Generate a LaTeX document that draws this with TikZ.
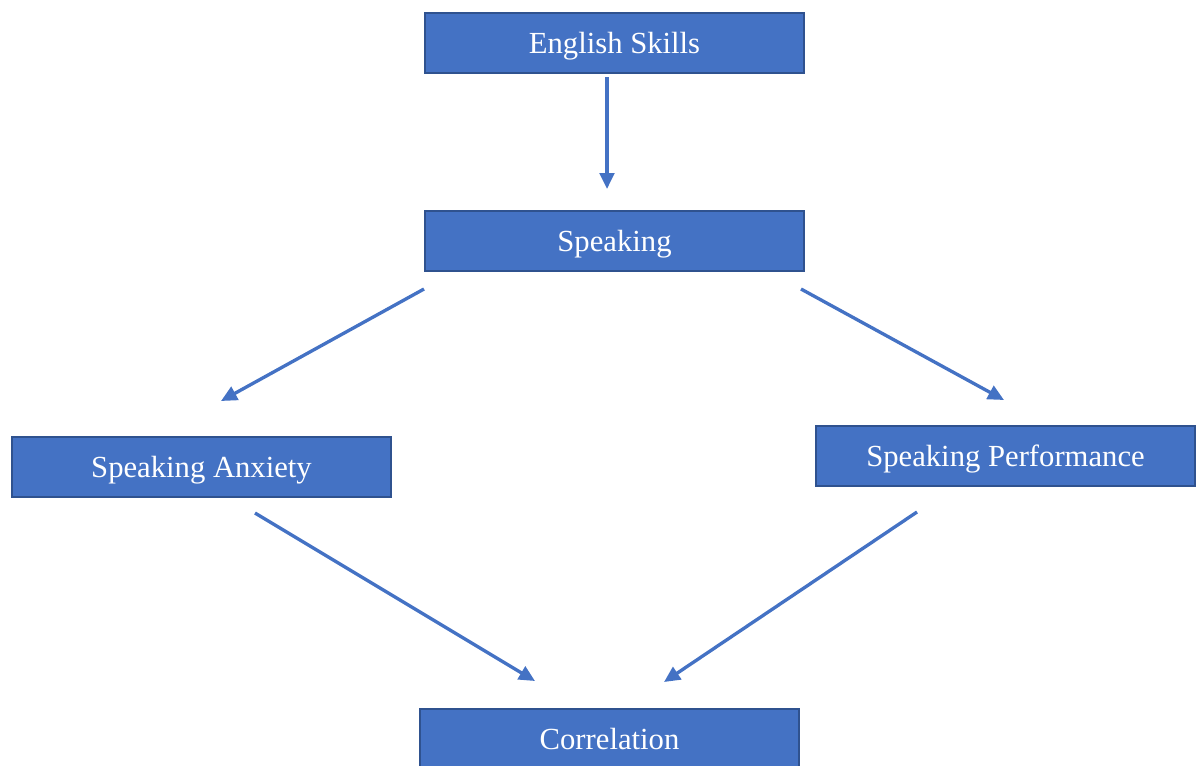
\documentclass[tikz,border=0pt]{standalone}
\usepackage{fontspec}
\setmainfont{Liberation Serif}
\usetikzlibrary{arrows.meta}
\definecolor{boxfill}{HTML}{4472C4}
\definecolor{boxline}{HTML}{2F528F}
\definecolor{arrowc}{HTML}{4472C4}
\tikzset{
  box/.style={draw=boxline, line width=1.5pt, fill=boxfill, text=white,
    minimum width=284.25pt, minimum height=45pt, inner sep=0pt,
    text height=15.2pt, text depth=0pt,
    font=\fontsize{23}{27}\selectfont},
  conn/.style={draw=arrowc, line width=2.5pt, -{Triangle[length=12pt,width=11pt]}}
}
\begin{document}
\begin{tikzpicture}[x=0.75pt,y=-0.75pt]
\useasboundingbox (0,0) rectangle (1202,765);
\clip (0,0) rectangle (1202,765);
\node[box] (es) at (614.5,43) {English Skills};
\node[box] (sp) at (614.5,241) {Speaking};
\node[box] (sa) at (201.5,467) {Speaking Anxiety};
\node[box] (pf) at (1005.5,456) {Speaking Performance};
\node[box] (co) at (609.5,739) {Correlation};
\coordinate (a1s) at (607,77);
\coordinate (a1e) at (607,189);
\coordinate (a2s) at (424,289);
\coordinate (a2e) at (221,401);
\coordinate (a3s) at (801,289);
\coordinate (a3e) at (1004,400);
\coordinate (a4s) at (255,513);
\coordinate (a4e) at (535,681);
\coordinate (a5s) at (917,512);
\coordinate (a5e) at (664,682);
\draw[conn] (a1s) -- (a1e);
\draw[conn] (a2s) -- (a2e);
\draw[conn] (a3s) -- (a3e);
\draw[conn] (a4s) -- (a4e);
\draw[conn] (a5s) -- (a5e);
\end{tikzpicture}
\end{document}
